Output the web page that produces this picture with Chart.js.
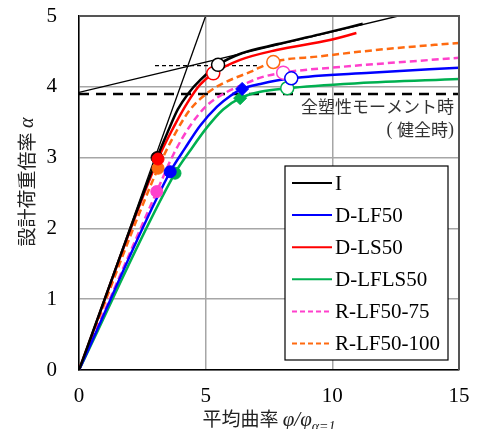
<!DOCTYPE html>
<html><head><meta charset="utf-8">
<script src="https://cdn.jsdelivr.net/npm/chart.js@4"></script>
<style>html,body{margin:0;padding:0;background:#fff}</style>
</head><body>
<canvas id="c" width="480" height="429"></canvas>
<script>
// ---- data ----
const seriesNames = ['I','D-LF50','D-LS50','D-LFLS50','R-LF50-75','R-LF50-100'];

const x_I    = [0, 3.08, 3.5, 3.9, 4.3, 4.8, 5.49, 6.4, 7.8, 9.5, 11.2];
const y_I    = [0, 3.0, 3.36, 3.68, 3.9, 4.1, 4.31, 4.47, 4.6, 4.74, 4.89];
const x_DLF  = [0, 3.6, 4.2, 4.78, 5.45, 5.97, 6.44, 7.16, 8.38, 11.5, 15];
const y_DLF  = [0, 2.8, 3.14, 3.45, 3.72, 3.87, 3.97, 4.04, 4.12, 4.2, 4.27];
const x_DLS  = [0, 3.12, 3.72, 4.27, 4.78, 5.3, 6.36, 7.8, 9.9, 10.95];
const y_DLS  = [0, 2.98, 3.42, 3.77, 4.03, 4.19, 4.38, 4.52, 4.66, 4.76];
const x_DLFLS= [0, 3.79, 4.39, 5.06, 5.69, 6.36, 7.16, 8.22, 11, 15];
const y_DLFLS= [0, 2.78, 3.1, 3.43, 3.68, 3.84, 3.93, 3.98, 4.05, 4.11];
const x_R75  = [0, 3.07, 3.72, 4.39, 5.06, 5.85, 6.48, 7.16, 8.06, 10.3, 15];
const y_R75  = [0, 2.52, 3.04, 3.45, 3.74, 3.93, 4.03, 4.13, 4.2, 4.28, 4.41];
const x_R100 = [0, 3.12, 3.72, 4.39, 5.06, 5.69, 6.76, 7.67, 9.5, 12, 15];
const y_R100 = [0, 2.85, 3.29, 3.68, 3.91, 4.05, 4.21, 4.35, 4.43, 4.53, 4.62];

// markers (order follows seriesNames)
const yieldX = [3.08, 3.6, 3.12, 3.79, 3.07, 3.12];
const yieldY = [3.0, 2.8, 2.98, 2.78, 2.52, 2.85];
const diamondX = [6.44, 6.36];        // D-LF50, D-LFLS50
const diamondY = [3.97, 3.84];
const openX = [5.49, 8.38, 5.3, 8.22, 8.06, 7.67];
const openY = [4.31, 4.12, 4.19, 3.98, 4.2, 4.35];

// reference lines
const plasticLevel = 3.9;
const elasticX = [0, 5], elasticY = [0, 5];
const tangentX = [0, 12.6], tangentY = [3.92, 5.0];
const shortDashX = [3.0, 7.1], shortDashY = [4.3, 4.3];

const xTicks = [0, 5, 10, 15];
const yTicks = [0, 1, 2, 3, 4, 5];

// ---- styles ----
const colors = ['#000000','#0000ff','#ff0000','#00b050','#ff40cc','#ff6a10'];
const dashed = [false,false,false,false,true,true];
const seriesX = [x_I, x_DLF, x_DLS, x_DLFLS, x_R75, x_R100];
const seriesY = [y_I, y_DLF, y_DLS, y_DLFLS, y_R75, y_R100];
const pts = (xs, ys) => xs.map((x, i) => ({x, y: ys[i]}));

const datasets = [];
seriesNames.forEach((n, i) => {
  datasets.push({label: n, data: pts(seriesX[i], seriesY[i]), borderColor: colors[i],
    borderWidth: 2.5, borderDash: dashed[i] ? [7, 4] : [], pointRadius: 0,
    cubicInterpolationMode: 'monotone', fill: false, order: 3});
});
datasets.push({label: 'plastic', data: [{x: 0, y: plasticLevel}, {x: 15, y: plasticLevel}],
  borderColor: '#000', borderWidth: 2.5, borderDash: [10, 7], pointRadius: 0, order: 4});
datasets.push({label: 'elastic', data: pts(elasticX, elasticY), borderColor: '#000', borderWidth: 1.3, pointRadius: 0, order: 4});
datasets.push({label: 'tangent', data: pts(tangentX, tangentY), borderColor: '#000', borderWidth: 1.3, pointRadius: 0, order: 4});
datasets.push({label: 'shortdash', data: pts(shortDashX, shortDashY), borderColor: '#000', borderWidth: 1.3, borderDash: [4, 3], pointRadius: 0, order: 4});
seriesNames.forEach((n, i) => {
  datasets.push({label: n + ' y', data: [{x: yieldX[i], y: yieldY[i]}], showLine: false,
    pointRadius: 6, pointBackgroundColor: colors[i], pointBorderColor: colors[i], pointBorderWidth: 1,
    order: i === 0 ? 2.5 : 2});
});
[1, 3].forEach((si, k) => {
  datasets.push({label: seriesNames[si] + ' d', data: [{x: diamondX[k], y: diamondY[k]}], showLine: false,
    pointStyle: 'rectRot', pointRadius: 6.5, pointBackgroundColor: colors[si], pointBorderColor: colors[si], order: 2});
});
seriesNames.forEach((n, i) => {
  datasets.push({label: n + ' o', data: [{x: openX[i], y: openY[i]}], showLine: false,
    pointRadius: 6.5, pointBackgroundColor: '#fff', pointBorderColor: colors[i], pointBorderWidth: 1.5, order: 1});
});

const serif = '"Liberation Serif", "Times New Roman", serif';
const cjk = '"Noto Sans CJK JP", sans-serif';

const extras = {
  id: 'extras',
  afterDatasetsDraw(chart) {
    const ctx = chart.ctx, ca = chart.chartArea;
    const ys = chart.scales.y;
    ctx.save();
    // top/right frame
    ctx.strokeStyle = '#555'; ctx.lineWidth = 2;
    ctx.beginPath(); ctx.moveTo(ca.left, ca.top); ctx.lineTo(ca.right, ca.top); ctx.lineTo(ca.right, ca.bottom); ctx.stroke();
    // annotation
    const ay = ys.getPixelForValue(plasticLevel);
    ctx.fillStyle = '#333'; ctx.textBaseline = 'middle'; ctx.textAlign = 'right';
    ctx.font = '17px ' + cjk;
    ctx.fillText('全塑性モーメント時', ca.right - 5, ay + 13);
    const t2 = '健全時';
    const w2 = ctx.measureText(t2).width;
    ctx.font = '18px ' + serif;
    const wp = ctx.measureText(')').width;
    ctx.fillText(')', ca.right - 5, ay + 36);
    ctx.font = '17px ' + cjk;
    ctx.fillText(t2, ca.right - 5 - wp, ay + 36);
    ctx.font = '18px ' + serif;
    ctx.fillText('( ', ca.right - 5 - wp - w2, ay + 36);
    // legend
    const bx = 285, by = 166, bw = 163, bh = 194;
    ctx.fillStyle = '#fff'; ctx.fillRect(bx, by, bw, bh);
    ctx.strokeStyle = '#000'; ctx.lineWidth = 1.2; ctx.setLineDash([]);
    ctx.strokeRect(bx, by, bw, bh);
    ctx.textAlign = 'left';
    seriesNames.forEach((n, i) => {
      const y = 183 + i * 32.1;
      ctx.strokeStyle = colors[i]; ctx.lineWidth = 2;
      ctx.setLineDash(dashed[i] ? [5, 3] : []);
      ctx.beginPath(); ctx.moveTo(292, y); ctx.lineTo(332, y); ctx.stroke();
      ctx.setLineDash([]);
      ctx.fillStyle = '#000'; ctx.font = '21px ' + serif;
      ctx.fillText(n, 335, y + 1);
    });
    // y title
    ctx.save();
    ctx.translate(27, 182); ctx.rotate(-Math.PI / 2);
    ctx.fillStyle = '#222';
    ctx.font = '19px ' + cjk;
    const ya = '設計荷重倍率 ';
    const wa = ctx.measureText(ya).width;
    ctx.font = 'italic 20px ' + serif;
    const wb = ctx.measureText('α').width;
    let sx = -(wa + wb) / 2;
    ctx.textAlign = 'left'; ctx.textBaseline = 'middle';
    ctx.font = '19px ' + cjk; ctx.fillText(ya, sx, 0);
    ctx.font = 'italic 20px ' + serif; ctx.fillText('α', sx + wa, 1);
    ctx.restore();
    // x title
    ctx.fillStyle = '#222'; ctx.textAlign = 'left'; ctx.textBaseline = 'alphabetic';
    ctx.font = '19px ' + cjk;
    const xa = '平均曲率 ';
    const w1 = ctx.measureText(xa).width;
    ctx.font = 'italic 21px ' + serif;
    const wm = ctx.measureText('φ/φ').width;
    ctx.font = 'italic 14px ' + serif;
    const wsub = ctx.measureText('α=1').width;
    let x0 = (ca.left + ca.right) / 2 - (w1 + wm + wsub) / 2;
    const base = 426;
    ctx.font = '19px ' + cjk; ctx.fillText(xa, x0, base);
    ctx.font = 'italic 21px ' + serif; ctx.fillText('φ/φ', x0 + w1, base);
    ctx.font = 'italic 14px ' + serif; ctx.fillText('α=1', x0 + w1 + wm, base + 5);
    ctx.restore();
  }
};

new Chart(document.getElementById('c'), {
  type: 'line',
  data: {datasets},
  options: {
    responsive: false, animation: false, devicePixelRatio: 1,
    layout: {padding: {left: 0, right: 21, top: 16, bottom: 0}},
    plugins: {legend: {display: false}, tooltip: {enabled: false}},
    scales: {
      x: {type: 'linear', min: 0, max: 15,
        afterFit: s => { s.height = 59; s.paddingLeft = 0; s.paddingRight = 0; },
        afterBuildTicks: s => { s.ticks = xTicks.map(v => ({value: v})); },
        grid: {color: '#a6a6a6', lineWidth: 1.5, drawTicks: false},
        border: {color: '#000', width: 1.5},
        ticks: {font: {family: serif, size: 21}, color: '#000', padding: 14, maxRotation: 0}},
      y: {type: 'linear', min: 0, max: 5,
        afterFit: s => { s.width = 79; s.paddingTop = 0; s.paddingBottom = 0; },
        afterBuildTicks: s => { s.ticks = yTicks.map(v => ({value: v})); },
        grid: {color: '#a6a6a6', lineWidth: 1.5, drawTicks: false},
        border: {color: '#000', width: 1.5},
        ticks: {font: {family: serif, size: 21}, color: '#000', padding: 22}}
    }
  },
  plugins: [extras]
});
</script></body></html>
